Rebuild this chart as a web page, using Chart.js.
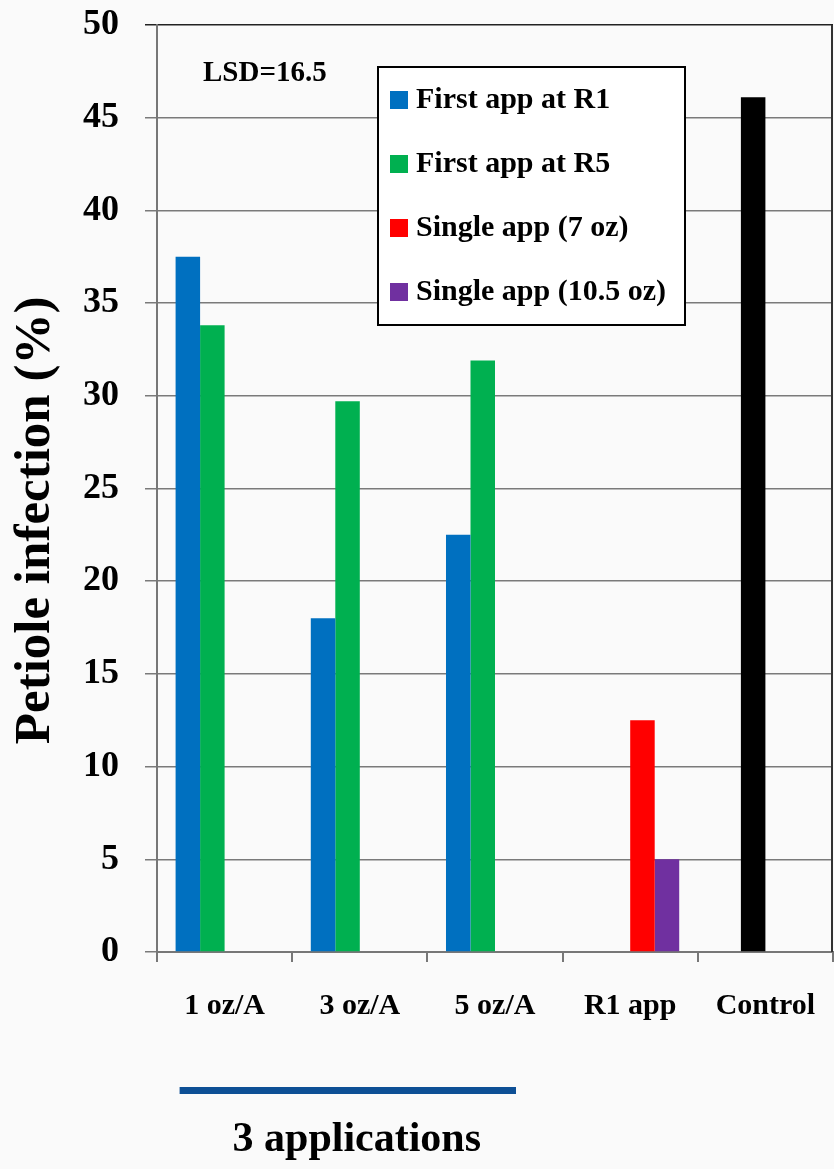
<!DOCTYPE html>
<html>
<head>
<meta charset="utf-8">
<script src="https://cdn.jsdelivr.net/npm/chart.js@4.4.1/dist/chart.umd.min.js"></script>
<style>
  html, body { margin: 0; padding: 0; background: #fafafa; }
  #wrap { position: relative; width: 834px; height: 1169px; }
</style>
</head>
<body>
<div id="wrap"><canvas id="chart"></canvas></div>
<script>
const categories = ['1 oz/A', '3 oz/A', '5 oz/A', 'R1 app', 'Control'];
const firstAppR1 = [37.5, 18.0, 22.5, null, null];
// Control bar sits in the second slot of its group, so it rides on this series
const firstAppR5 = [33.8, 29.7, 31.9, null, 46.1];
const single7oz = [null, null, null, 12.5, null];
const single105oz = [null, null, null, 5.0, null];
const yTicks = [0, 5, 10, 15, 20, 25, 30, 35, 40, 45, 50];

const SERIF = '"Liberation Serif", "DejaVu Serif", serif';

// legend box + notes drawn on top of the bars
const overlay = {
  id: 'overlay',
  afterDraw(chart) {
    const { ctx, chartArea: a, scales } = chart;
    ctx.save();

    // right frame line
    ctx.strokeStyle = '#333';
    ctx.lineWidth = 2;
    ctx.beginPath();
    ctx.moveTo(a.right - 1, a.top);
    ctx.lineTo(a.right - 1, a.bottom);
    ctx.stroke();

    // LSD note
    ctx.fillStyle = '#000';
    ctx.font = 'bold 29px ' + SERIF;
    ctx.textBaseline = 'middle';
    ctx.textAlign = 'left';
    ctx.fillText('LSD=16.5', a.left + 46, a.top + 49);

    // legend box
    const bx = a.left + 221, by = a.top + 42, bw = 307, bh = 258;
    ctx.fillStyle = '#fff';
    ctx.fillRect(bx, by, bw, bh);
    ctx.strokeStyle = '#000';
    ctx.lineWidth = 2;
    ctx.strokeRect(bx, by, bw, bh);
    ctx.font = 'bold 30px ' + SERIF;
    chart.data.datasets.forEach((ds, i) => {
      const cy = by + 33 + i * 64;
      ctx.fillStyle = ds.legendColor;
      ctx.fillRect(bx + 12, cy - 9, 18, 18);
      ctx.fillStyle = '#000';
      ctx.fillText(ds.label, bx + 38, cy);
    });

    // "3 applications" bracket under the first three groups
    const x = scales.x;
    const x0 = x.getPixelForValue(0) - 45;
    const x1 = x.getPixelForValue(2) + 21;
    ctx.fillStyle = '#0d4f95';
    ctx.fillRect(x0, 1087, x1 - x0, 7);
    ctx.fillStyle = '#000';
    ctx.font = 'bold 42px ' + SERIF;
    ctx.textAlign = 'center';
    ctx.fillText('3 applications', (x0 + x1) / 2 + 9, 1140);

    ctx.restore();
  }
};

new Chart(document.getElementById('chart'), {
  type: 'bar',
  data: {
    labels: categories,
    datasets: [
      { label: 'First app at R1', data: firstAppR1, backgroundColor: '#0070c0', legendColor: '#0070c0' },
      { label: 'First app at R5', data: firstAppR5,
        backgroundColor: ['#00b050', '#00b050', '#00b050', '#00b050', '#000000'], legendColor: '#00b050' },
      { label: 'Single app (7 oz)', data: single7oz, backgroundColor: '#ff0000', legendColor: '#ff0000' },
      { label: 'Single app (10.5 oz)', data: single105oz, backgroundColor: '#7030a0', legendColor: '#7030a0' }
    ]
  },
  options: {
    responsive: true,
    maintainAspectRatio: false,
    animation: false,
    layout: { padding: { left: 5, right: 1, top: 25, bottom: 119 } },
    datasets: { bar: { categoryPercentage: 0.725, barPercentage: 1.0 } },
    plugins: { legend: { display: false }, tooltip: { enabled: false } },
    scales: {
      x: {
        afterFit(scale) { scale.paddingLeft = 0; scale.paddingRight = 0; },
        grid: { display: true, drawOnChartArea: false, offset: true, tickLength: 10, color: '#777', lineWidth: 2 },
        border: { color: '#777', width: 2 },
        ticks: { color: '#000', font: { family: SERIF, size: 30, weight: 'bold' }, padding: 26, maxRotation: 0 }
      },
      y: {
        min: 0,
        max: 50,
        afterBuildTicks(scale) { scale.ticks = yTicks.map(v => ({ value: v })); },
        afterFit(scale) { scale.width = 152; scale.paddingTop = 0; scale.paddingBottom = 0; },
        grid: {
          tickLength: 12,
          lineWidth: 1.5,
          color: c => (c.tick && c.tick.value === 50 ? '#222' : '#7a7a7a')
        },
        border: { color: '#777', width: 2 },
        ticks: { color: '#000', font: { family: SERIF, size: 36, weight: 'bold' }, padding: 26 },
        title: {
          display: true,
          // trailing spaces nudge the centred title a little lower, as in the original
          text: 'Petiole infection (%)\u00a0\u00a0\u00a0\u00a0\u00a0',
          color: '#000',
          font: { family: SERIF, size: 51, weight: 'bold' },
          padding: { top: 0, bottom: 0 }
        }
      }
    }
  },
  plugins: [overlay]
});
</script>
</body>
</html>
